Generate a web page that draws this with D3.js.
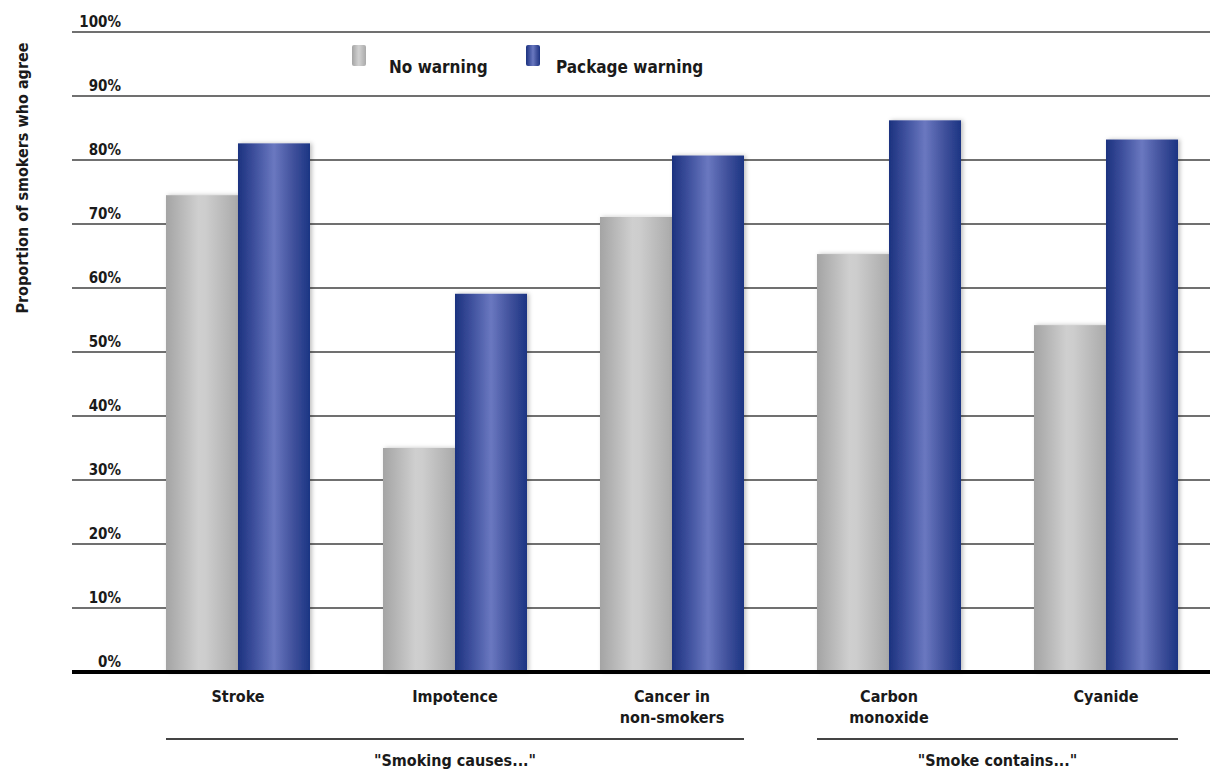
<!DOCTYPE html>
<html>
<head>
<meta charset="utf-8">
<script src="https://cdn.jsdelivr.net/npm/d3@7"></script>
<style>
  html, body { margin: 0; padding: 0; background: #fff; }
  svg { display: block; }
  text { font-family: "Liberation Sans Narrow", "DejaVu Sans Condensed", "Open Sans", sans-serif; fill: #1a1a1a; }
</style>
</head>
<body>
<svg id="chart" width="1210" height="769"></svg>
<script>
// Survey results: share of smokers agreeing with each statement
const categories = ["Stroke", "Impotence", "Cancer in\nnon-smokers", "Carbon\nmonoxide", "Cyanide"];
const seriesNames = ["No warning", "Package warning"];
const noWarning = [74.5, 35.0, 71.1, 65.3, 54.2];
const packageWarning = [82.6, 59.1, 80.7, 86.2, 83.2];
const yTicks = [0, 10, 20, 30, 40, 50, 60, 70, 80, 90, 100];
const groups = [
  { label: "\"Smoking causes...\"", members: ["Stroke", "Impotence", "Cancer in\nnon-smokers"] },
  { label: "\"Smoke contains...\"", members: ["Carbon\nmonoxide", "Cyanide"] }
];

const svg = d3.select("#chart");
const gridLeft = 72, gridRight = 1210;

const y = d3.scaleLinear().domain([0, 100]).range([672, 32]);
const x = d3.scaleBand().domain(categories).range([129.5, 1214.5])
  .paddingInner(73 / 217).paddingOuter(73 / 434);
const xs = d3.scaleBand().domain(seriesNames).range([0, x.bandwidth()]);

// gradients for the cylindrical bar look
const defs = svg.append("defs");
function grad(id, stops) {
  const g = defs.append("linearGradient").attr("id", id)
    .attr("x1", "0%").attr("x2", "100%").attr("y1", "0%").attr("y2", "0%");
  stops.forEach(s => g.append("stop").attr("offset", s[0]).attr("stop-color", s[1]));
}
grad("gGray", [["0%", "#a4a4a4"], ["45%", "#cfcfcf"], ["55%", "#cdcdcd"], ["100%", "#aaaaaa"]]);
grad("gBlue", [["0%", "#1c327f"], ["22%", "#3d4f9c"], ["50%", "#6a78c0"], ["75%", "#43539e"], ["100%", "#1c3583"]]);
const sh = defs.append("filter").attr("id", "shadow").attr("x", "-20%").attr("y", "-5%").attr("width", "140%").attr("height", "110%");
sh.append("feDropShadow").attr("dx", 2).attr("dy", 0).attr("stdDeviation", 2).attr("flood-color", "#000").attr("flood-opacity", 0.25);
const soft = defs.append("filter").attr("id", "soft");
soft.append("feGaussianBlur").attr("stdDeviation", 0.6);

const fills = { "No warning": "url(#gGray)", "Package warning": "url(#gBlue)" };

// gridlines
svg.append("g").attr("class", "grid")
  .selectAll("line").data(yTicks.filter(d => d > 0)).join("line")
  .attr("x1", gridLeft).attr("x2", gridRight)
  .attr("y1", d => y(d)).attr("y2", d => y(d))
  .attr("stroke", "#707070").attr("stroke-width", 2.2);

// tick labels sit just above their gridline
const yAxis = d3.axisLeft(y).tickValues(yTicks).tickSize(0).tickFormat(d => d + "%");
const axisG = svg.append("g").attr("transform", "translate(121,-6)").call(yAxis);
axisG.select(".domain").remove();
axisG.selectAll("text").attr("x", 0).attr("dy", 0).attr("text-anchor", "end")
  .style("font-size", "15px").style("font-weight", "bold").style("fill", "#1a1a1a");

// bars
const bars = svg.append("g");
categories.forEach((c, i) => {
  const vals = [noWarning[i], packageWarning[i]];
  bars.append("g").attr("transform", `translate(${x(c)},0)`)
    .selectAll("rect").data(seriesNames.map((s, j) => ({ s, v: vals[j] }))).join("rect")
    .attr("x", d => xs(d.s)).attr("width", xs.bandwidth())
    .attr("y", d => y(d.v)).attr("height", d => y(0) - y(d.v))
    .attr("fill", d => fills[d.s])
    .attr("filter", "url(#shadow)");
});

// baseline
svg.append("line").attr("x1", gridLeft).attr("x2", gridRight)
  .attr("y1", y(0)).attr("y2", y(0)).attr("stroke", "#000").attr("stroke-width", 4);

// category labels
const xAxis = d3.axisBottom(x).tickSize(0).tickFormat("");
const xg = svg.append("g").attr("transform", `translate(0,${y(0)})`).call(xAxis);
xg.select(".domain").remove();
xg.selectAll(".tick").each(function (d) {
  const t = d3.select(this).append("text").attr("text-anchor", "middle")
    .style("font-size", "16px").style("font-weight", "bold").style("fill", "#1a1a1a");
  d.split("\n").forEach((line, k) => {
    t.append("tspan").attr("x", 0).attr("y", 30 + k * 21).text(line);
  });
});

// group brackets
groups.forEach(g => {
  const x0 = x(g.members[0]);
  const x1 = x(g.members[g.members.length - 1]) + x.bandwidth();
  svg.append("line").attr("x1", x0).attr("x2", x1).attr("y1", 739).attr("y2", 739)
    .attr("stroke", "#444").attr("stroke-width", 2);
  svg.append("text").attr("x", (x0 + x1) / 2).attr("y", 766).attr("text-anchor", "middle")
    .style("font-size", "16px").style("font-weight", "bold").text(g.label);
});

// y axis title
svg.append("text").attr("transform", "translate(28,178) rotate(-90)")
  .attr("text-anchor", "middle").style("font-size", "16px").style("font-weight", "bold")
  .text("Proportion of smokers who agree");

// legend
const legend = svg.append("g");
const legendPos = [{ sx: 352, tx: 389 }, { sx: 526, tx: 556 }];
seriesNames.forEach((s, i) => {
  legend.append("rect").attr("x", legendPos[i].sx).attr("y", 45).attr("width", 14).attr("height", 21)
    .attr("rx", 2).attr("fill", fills[s]).attr("filter", "url(#soft)");
  legend.append("text").attr("x", legendPos[i].tx).attr("y", 73)
    .style("font-size", "17px").style("font-weight", "bold").text(s);
});
</script>
</body>
</html>
